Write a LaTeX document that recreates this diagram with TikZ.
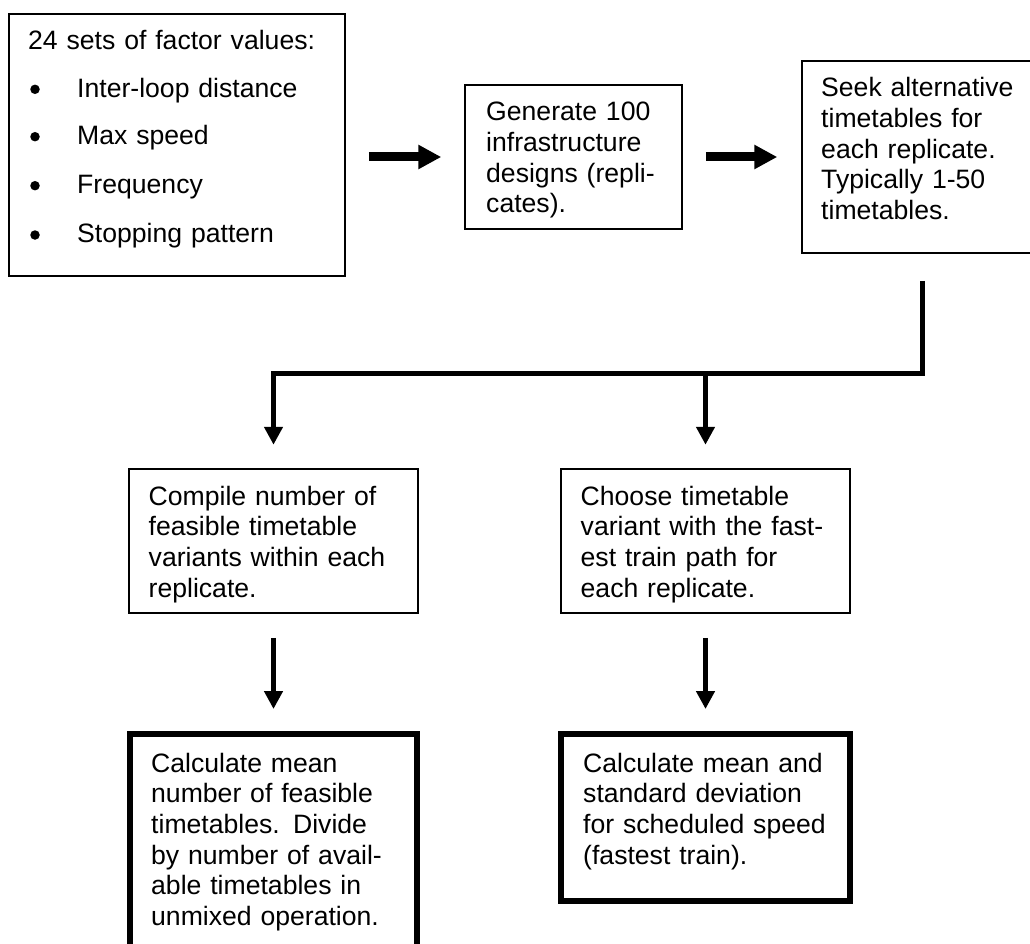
\documentclass[tikz,border=0pt]{standalone}
\usepackage{fontspec}
\setmainfont{Liberation Sans}
\usetikzlibrary{arrows.meta,calc}
\begin{document}
\begin{tikzpicture}[x=1pt,y=-1pt,
  box/.style={draw, line width=1.5pt, inner sep=0pt},
  thickbox/.style={draw, line width=6pt, inner sep=0pt},
  txt/.style={anchor=base west, inner sep=0pt, text width=420pt, align=left,
    font=\fontsize{26.6}{30.7}\selectfont},
  bigarrow/.style={line width=9pt, -{Triangle[width=23pt,length=23pt]}},
  connarrow/.style={line width=5pt, -{Triangle[width=18pt,length=18pt]}},
  lowarrow/.style={line width=4.5pt, -{Triangle[width=18pt,length=18pt]}},
  bulletdot/.style={circle, fill, inner sep=0pt, minimum size=9.5pt}]
\useasboundingbox (0,0) rectangle (1030,944);
\clip (0,0) rectangle (1030,944);
\fill[white] (0,0) rectangle (1030,944);

% boxes
\node[box, minimum width=336pt, minimum height=262pt] (b1) at (177,145) {};
\node[box, minimum width=217pt, minimum height=144pt] (b2) at (573.5,157) {};
\node[box, minimum width=243pt, minimum height=192pt] (b3) at (923.5,157) {};
\node[box, minimum width=289pt, minimum height=144pt] (b4) at (273.5,541) {};
\node[box, minimum width=289pt, minimum height=144pt] (b5) at (705.5,541) {};
\node[thickbox, minimum width=287pt, minimum height=226pt] (b6) at (273.5,847) {};
\node[thickbox, minimum width=289pt, minimum height=167pt] (b7) at (705.5,817.5) {};

% texts
\node[txt] (t1) at (28,49.3) {24 sets of factor values:};
\node[bulletdot] (u1) at (35,89.3) {};
\node[bulletdot] (u2) at (35,136.7) {};
\node[bulletdot] (u3) at (35,185.7) {};
\node[bulletdot] (u4) at (35,235) {};
\node[txt] (t1a) at (77,97.7) {Inter-loop distance};
\node[txt] (t1b) at (77,145) {Max speed};
\node[txt] (t1c) at (77,193.3) {Frequency};
\node[txt] (t1d) at (77,242.7) {Stopping pattern};
\node[txt] (t2) at (486,120.7) {Generate 100\\infrastructure\\designs (repli-\\cates).};
\node[txt] (t3) at (821,96.7) {Seek alternative\\timetables for\\each replicate.\\Typically 1-50\\timetables.};
\node[txt] (t4) at (148.5,505) {Compile number of\\feasible timetable\\variants within each\\replicate.};
\node[txt] (t5) at (580.5,505) {Choose timetable\\variant with the fast-\\est train path for\\each replicate.};
\node[txt] (t6) at (151,772) {Calculate mean\\number of feasible\\timetables. Divide\\by number of avail-\\able timetables in\\unmixed operation.};
\node[txt] (t7) at (583,772) {Calculate mean and\\standard deviation\\for scheduled speed\\(fastest train).};

% connectors
\coordinate (jr) at (922,373);
\coordinate (jl) at (273.5,373);
\coordinate (jm) at (705.5,373);
\draw[bigarrow] ($(b1.east |- b2.west)+(23,0)$) -- ($(b2.west)+(-23,0)$);
\draw[bigarrow] ($(b2.east)+(23,0)$) -- ($(b3.west)+(-24,0)$);
\draw[connarrow] ($(b3.south -| jr)+(0,27)$) |- (jl) -- ($(b4.north)+(0,-23.5)$);
\draw[connarrow] (jm) -- ($(b5.north)+(0,-23.5)$);
\draw[lowarrow] ($(b4.south)+(0,24)$) -- ($(b6.north)+(0,-22)$);
\draw[lowarrow] ($(b5.south)+(0,24)$) -- ($(b7.north)+(0,-22)$);
\end{tikzpicture}
\end{document}
